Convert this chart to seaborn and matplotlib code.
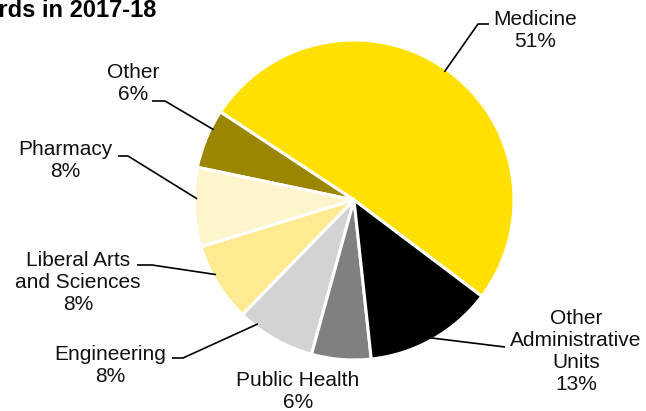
import matplotlib
matplotlib.use("Agg")
import matplotlib.pyplot as plt
import seaborn as sns
import numpy as np

# ---- data ----
categories = ["Medicine", "Other", "Pharmacy", "Liberal Arts\nand Sciences",
              "Engineering", "Public Health", "Other\nAdministrative\nUnits"]
shares = [51, 6, 8, 8, 8, 6, 13]
colors = ["#FFE000", "#9A8600", "#FFF5CC", "#FFE991", "#D3D3D3", "#808080", "#000000"]
title = "Research Awards in 2017-18"

sns.set_theme(style="white")
plt.rcParams["font.family"] = ["Liberation Sans", "DejaVu Sans"]
palette = sns.color_palette(colors)

W, H = 646, 411
fig = plt.figure(figsize=(W / 100, H / 100), dpi=100)
ax = fig.add_axes([0, 0, 1, 1])

cx, cy, R = 354, H - 200, 160
start = -37
wedges, _ = ax.pie(shares, colors=palette, startangle=start, counterclock=True,
                   center=(cx, cy), radius=R, frame=True,
                   wedgeprops=dict(edgecolor="white", linewidth=2.2))
ax.set_xlim(0, W)
ax.set_ylim(0, H)
ax.set_aspect("equal")
ax.axis("off")

# label layout (pixel coords: text centre, elbow/end of leader line)
layout = {
    0: dict(text=(535, 30), path=[(478, 24), (489, 24)], off=0),
    1: dict(text=(133, 83), path=[(165, 101), (152, 101)], off=-4),
    2: dict(text=(65, 160), path=[(128, 156), (118, 156)], off=-3),
    3: dict(text=(78, 283), path=[(152, 265), (137, 265)], off=-3),
    4: dict(text=(110, 365), path=[(183, 358), (172, 358)], off=-8),
    5: dict(text=(298, 391), path=None, off=0),
    6: dict(text=(576, 351), path=[(505, 347)], off=-1),
}

for i, w in enumerate(wedges):
    L = layout[i]
    tx, ty = L["text"]
    ax.text(tx, H - ty, f"{categories[i]}\n{shares[i]}%", ha="center", va="center",
            multialignment="center", fontsize=15, color="#111111", linespacing=1.2)
    if L["path"]:
        ang = np.deg2rad((w.theta1 + w.theta2) / 2 + L["off"])
        ax0 = cx + 0.98 * R * np.cos(ang)
        ay0 = cy + 0.98 * R * np.sin(ang)
        xs = [ax0] + [p[0] for p in L["path"]]
        ys = [ay0] + [H - p[1] for p in L["path"]]
        ax.plot(xs, ys, color="black", linewidth=1.2, solid_capstyle="butt")

ax.text(156, H - 17, title, ha="right", va="baseline", fontsize=17,
        fontweight="bold", color="black")

fig.savefig("out.png", dpi=100)
